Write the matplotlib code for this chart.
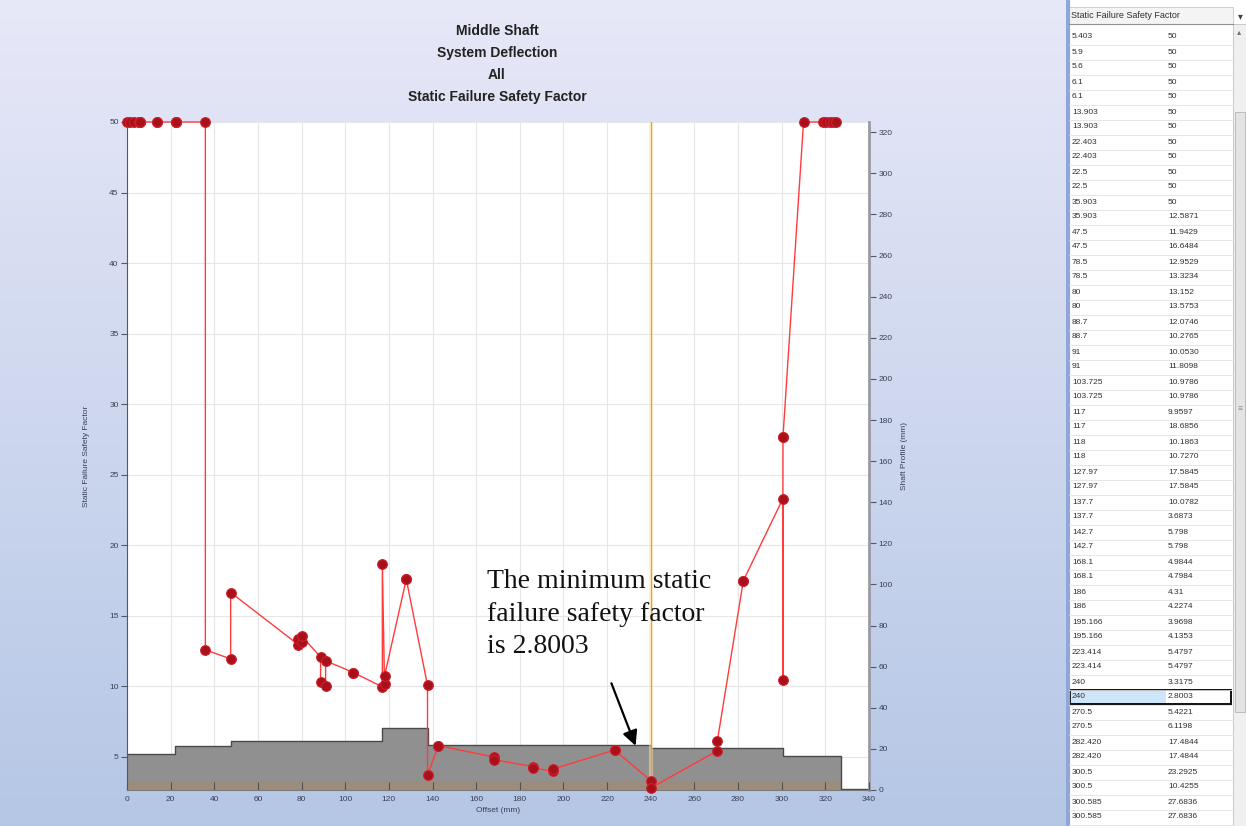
import numpy as np
import matplotlib
matplotlib.use("Agg")
import matplotlib.pyplot as plt
from matplotlib.patches import Rectangle

# === Data ===
# rows visible in the table panel (offset mm, static failure safety factor)
table_offset = ["5.403", "5.9", "5.6", "6.1", "6.1", "13.903", "13.903", "22.403", "22.403",
                "22.5", "22.5", "35.903", "35.903", "47.5", "47.5", "78.5", "78.5", "80", "80",
                "88.7", "88.7", "91", "91", "103.725", "103.725", "117", "117", "118", "118",
                "127.97", "127.97", "137.7", "137.7", "142.7", "142.7", "168.1", "168.1",
                "186", "186", "195.166", "195.166", "223.414", "223.414", "240", "240",
                "270.5", "270.5", "282.420", "282.420", "300.5", "300.5", "300.585", "300.585"]
table_sf = ["50", "50", "50", "50", "50", "50", "50", "50", "50", "50", "50", "50",
            "12.5871", "11.9429", "16.6484", "12.9529", "13.3234", "13.152", "13.5753",
            "12.0746", "10.2765", "10.0530", "11.8098", "10.9786", "10.9786", "9.9597",
            "18.6856", "10.1863", "10.7270", "17.5845", "17.5845", "10.0782", "3.6873",
            "5.798", "5.798", "4.9844", "4.7984", "4.31", "4.2274", "3.9698", "4.1353",
            "5.4797", "5.4797", "3.3175", "2.8003", "5.4221", "6.1198", "17.4844",
            "17.4844", "23.2925", "10.4255", "27.6836", "27.6836"]
selected_row = 44

# points outside the scrolled table view
lead_offset = [0, 1.5, 3]
lead_sf = [50, 50, 50]
tail_offset = [310, 319, 320.5, 322, 323.5, 325]
tail_sf = [50, 50, 50, 50, 50, 50]

offset = np.array(lead_offset + [float(v) for v in table_offset] + tail_offset)
safety = np.array(lead_sf + [float(v) for v in table_sf] + tail_sf)

# shaft profile (step, mm)
profile_x = [0, 22, 47.5, 117, 137.7, 240, 300.5, 327, 340]
profile_h = [17.6, 21.5, 23.9, 30.2, 22.0, 20.5, 16.6, 0.4, 0.4]
bore_h = 4.5

min_offset = 240
min_sf = 2.8003

W, H = 1246, 826
fig = plt.figure(figsize=(W / 100, H / 100), dpi=100)
plt.rcParams['font.family'] = ['Liberation Sans', 'DejaVu Sans']

# === background gradient ===
bg = fig.add_axes([0, 0, 1, 1], zorder=-10)
grad = np.linspace(0, 1, 256)[:, None]
top_c = np.array([0.906, 0.910, 0.972])
bot_c = np.array([0.710, 0.780, 0.900])
img = top_c[None, None, :] * (1 - grad[:, :, None]) + bot_c[None, None, :] * grad[:, :, None]
bg.imshow(img, aspect='auto', extent=[0, 1, 0, 1])
bg.set_xlim(0, 1)
bg.set_ylim(0, 1)
bg.axis('off')

# === main chart ===
x0, x1, y0, y1 = 127, 869, 122, 790
ax = fig.add_axes([x0 / W, 1 - y1 / H, (x1 - x0) / W, (y1 - y0) / H])
ax2 = ax.twinx()
ax.set_zorder(ax2.get_zorder() + 1)
ax.patch.set_visible(False)
ax2.patch.set_visible(True)
ax2.patch.set_facecolor('white')

ax.set_xlim(0, 340)
ax.set_ylim(2.65, 50)
ax2.set_ylim(0, 325)

xt = np.arange(0, 341, 20)
sft = np.arange(5, 51, 5)
ax.set_xticks(xt)
ax.set_yticks(sft)
ax2.set_yticks(np.arange(0, 321, 20))

# grid lives under the profile
ax2.vlines(xt, 0, 325, color='#e6e6e6', lw=0.8, zorder=0.5)
ax2.hlines(sft, 0, 1, transform=ax.get_yaxis_transform(), color='#e6e6e6', lw=0.8, zorder=0.5)

# shaft profile
px = np.array(profile_x)
ph = np.array(profile_h)
ax2.fill_between(px, 0, ph, step='post', color='#909090', zorder=1, lw=0)
ax2.step(px, ph, where='post', color='#4a4a4a', lw=1.0, zorder=1.2)
ax2.fill_between([0, 327], 0, bore_h, color='#9c8c7c', zorder=1.1, lw=0)

# cursor line at the minimum
ax.axvline(min_offset, color='#fde6b0', lw=3, alpha=0.5, zorder=1)
ax.axvline(min_offset, color='#f0a020', lw=0.9, zorder=1.1)

# safety factor series
ax.plot(offset, safety, color='#ff3b3b', lw=1.0, zorder=3, clip_on=False)
ax.plot(offset, safety, 'o', ms=7, mfc='#a8101c', mec='#d01f2a', mew=0.8,
        zorder=4, clip_on=False)

# spines / ticks
for s in ['top', 'right']:
    ax.spines[s].set_visible(False)
for s in ['top', 'left', 'bottom']:
    ax2.spines[s].set_visible(False)
ax.spines['left'].set_color('#505868')
ax.spines['bottom'].set_color('#7a7a7a')
ax2.spines['right'].set_color('#9a9aa2')
ax2.spines['right'].set_linewidth(2)

ax.tick_params(axis='y', direction='out', length=4, width=0.8, colors='#505868',
               labelsize=6, labelcolor='#3a3f55', pad=2)
ax.tick_params(axis='x', direction='in', length=6, width=0.8, colors='#505050',
               labelsize=6, labelcolor='#3a3f55', pad=4)
ax2.tick_params(axis='y', direction='out', length=5, width=0.8, colors='#505868',
                labelsize=6, labelcolor='#3a3f55', pad=2)

ax.set_xlabel('Offset (mm)', fontsize=6, color='#3a3f55', labelpad=3)
ax.set_ylabel('Static Failure Safety Factor', fontsize=6, color='#3a3f55', labelpad=14)
ax2.set_ylabel('Shaft Profile (mm)', fontsize=6, color='#3a3f55', labelpad=6, rotation=90)

# title
title_lines = ['Middle Shaft', 'System Deflection', 'All', 'Static Failure Safety Factor']
for i, t in enumerate(title_lines):
    fig.text(497 / W, 1 - (31 + 22 * i) / H, t, ha='center', va='center',
             fontsize=10, fontweight='bold', color='#222222')

# annotation
ax.annotate('', xy=(233.5, 5.6), xytext=(221.5, 10.4),
            arrowprops=dict(arrowstyle='-|>,head_length=0.9,head_width=0.45',
                            color='black', lw=1.6), zorder=6)
ax.text(165, 18.3, 'The minimum static\nfailure safety factor\nis %.4f' % min_sf,
        ha='left', va='top', fontsize=20, family='Liberation Serif',
        color='#111111', linespacing=1.4, zorder=6)

# === table panel ===
tx0 = 1066
tb = fig.add_axes([tx0 / W, 0, (W - tx0) / W, 1], zorder=5)
tw = W - tx0
tb.set_xlim(0, tw)
tb.set_ylim(H, 0)
tb.axis('off')
tb.add_patch(Rectangle((0, 0), tw, H, facecolor='white', edgecolor='none'))
tb.axvline(1.5, color='#8fa6d6', lw=3)
row_h = 15.0
row0 = 29.5
sb_x = 167
# header
tb.add_patch(Rectangle((3, 7), sb_x - 3, 17, facecolor='#f4f4f4', edgecolor='#c8c8c8', lw=0.6))
tb.text(5, 16, 'Static Failure Safety Factor', fontsize=6.5, va='center', color='#303030')
tb.text(tw - 6, 16, '\u25be', fontsize=7, va='center', ha='center', color='#404040')
tb.plot([3, sb_x], [24, 24], color='#909090', lw=0.8)
# rows
for i, (a, b) in enumerate(zip(table_offset, table_sf)):
    yt = row0 + i * row_h
    if i == selected_row:
        tb.add_patch(Rectangle((4, yt + 1), 96, row_h - 2, facecolor='#cfe5fa', edgecolor='none'))
        tb.add_patch(Rectangle((4, yt + 0.5), sb_x - 6, row_h - 1, facecolor='none',
                               edgecolor='#111111', lw=1.4))
    tb.plot([3, sb_x], [yt + row_h, yt + row_h], color='#e2e2e2', lw=0.6)
    tb.text(6, yt + row_h / 2, a, fontsize=6, va='center', color='#303030')
    tb.text(102, yt + row_h / 2, b, fontsize=6, va='center', color='#303030')
# scrollbar
tb.add_patch(Rectangle((sb_x, 24), tw - sb_x, H - 24, facecolor='#f0f0f0', edgecolor='#c0c0c0', lw=0.6))
tb.add_patch(Rectangle((sb_x + 1.5, 112), tw - sb_x - 3, 600, facecolor='#e4e4e4',
                       edgecolor='#b4b4b4', lw=0.6))
tb.text((sb_x + tw) / 2, 33, '\u25b4', fontsize=6, ha='center', va='center', color='#707070')
tb.text((sb_x + tw) / 2, 410, '\u2261', fontsize=6, ha='center', va='center', color='#909090')

fig.savefig('out.png', dpi=100)
